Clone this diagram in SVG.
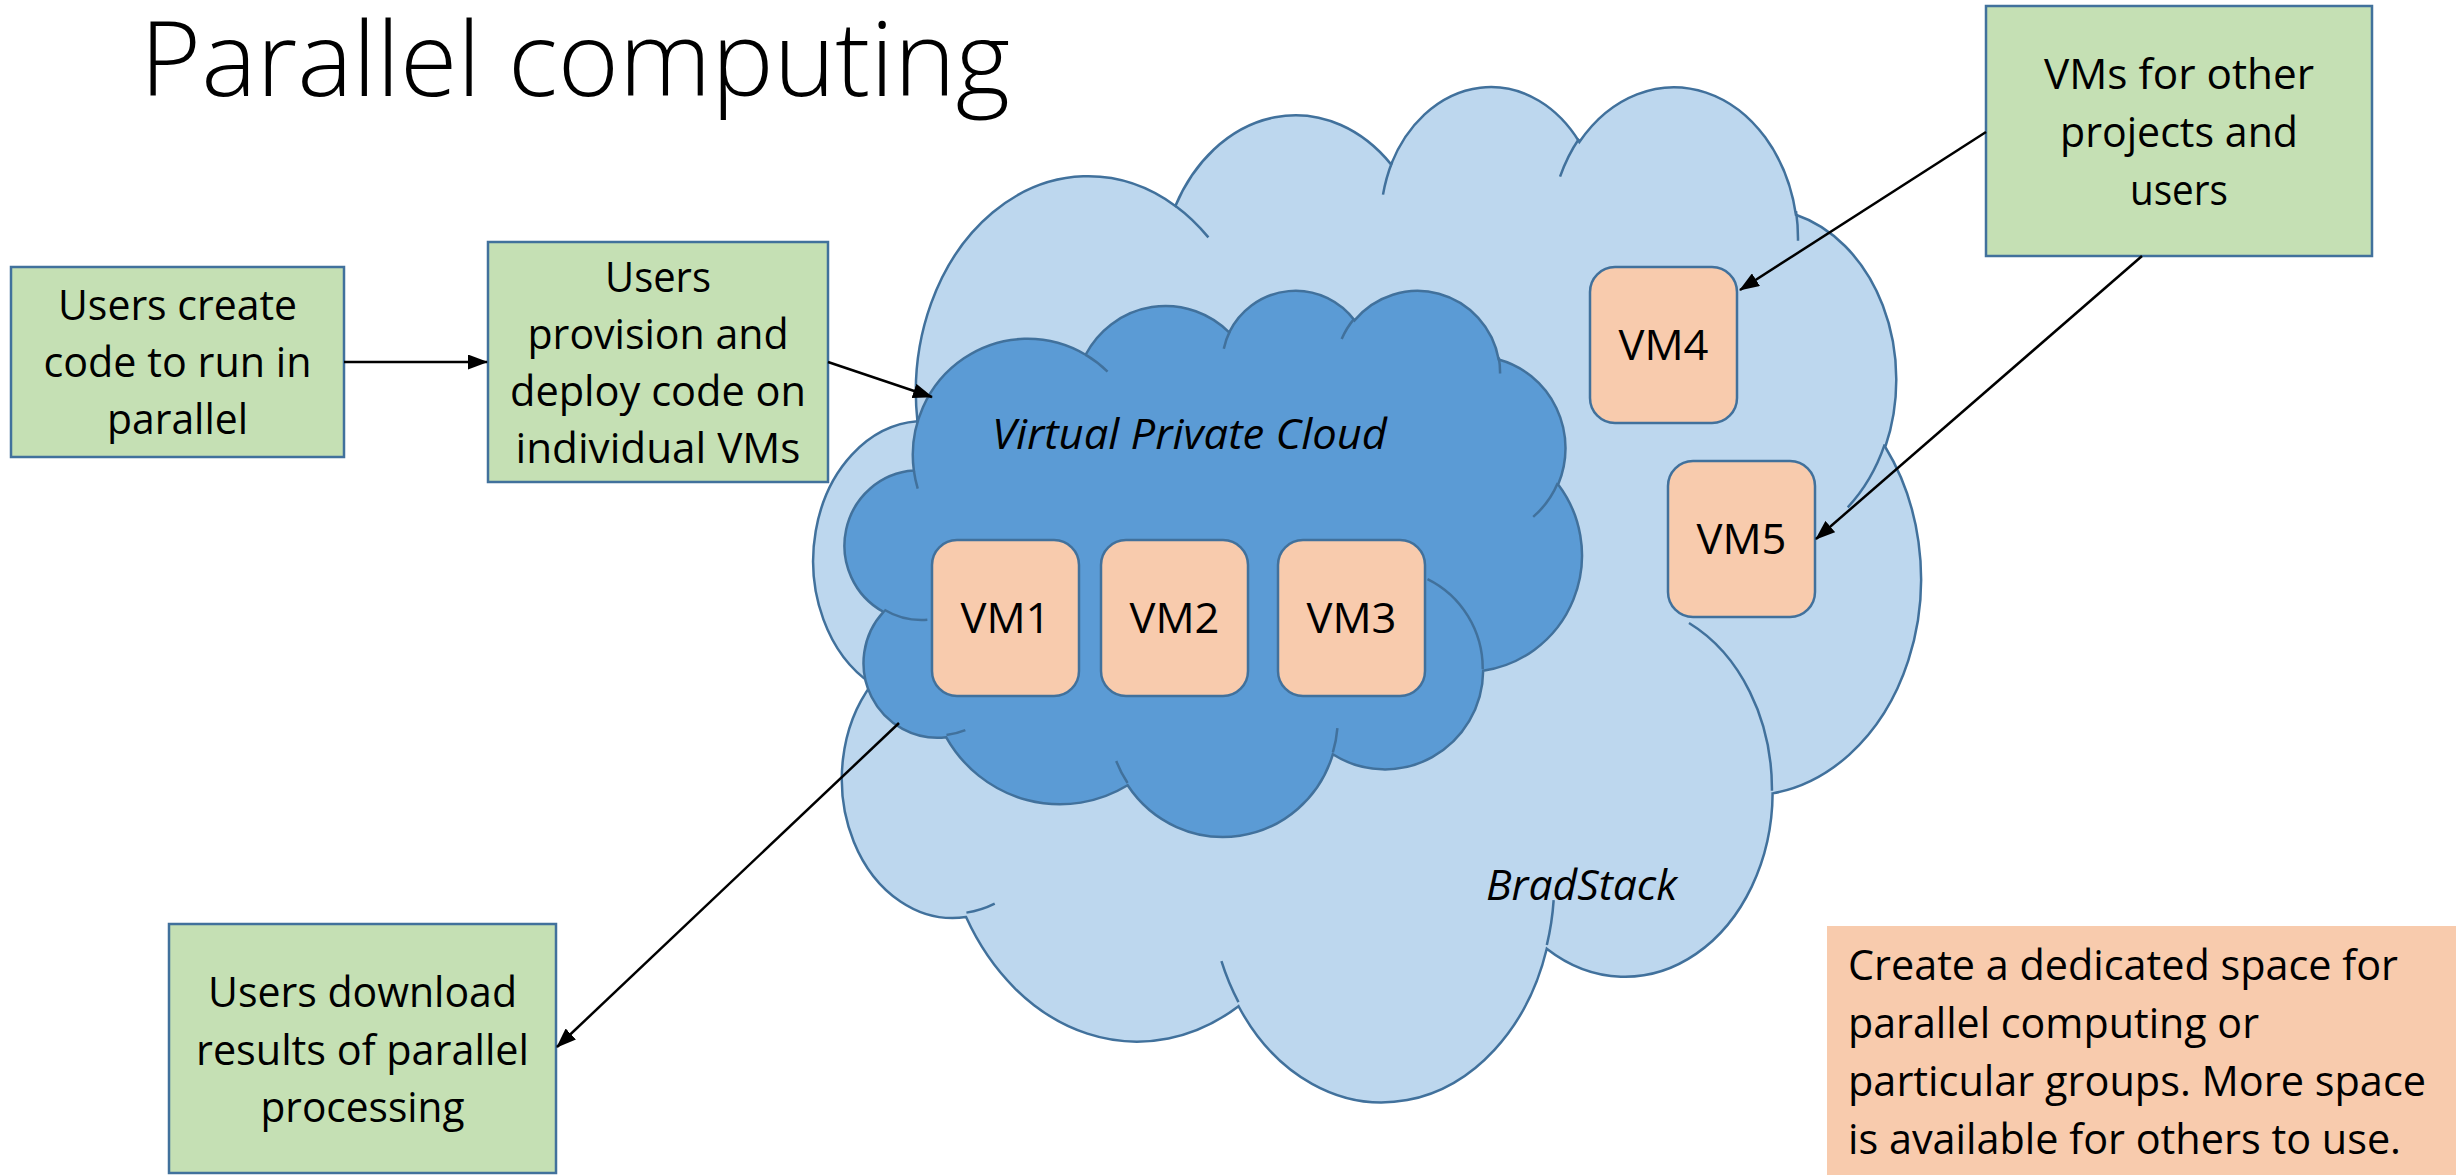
<svg xmlns="http://www.w3.org/2000/svg" xmlns:xlink="http://www.w3.org/1999/xlink" width="2456" height="1175" viewBox="0 0 2456 1175">
<style>
  .t { font-family: 'Open Sans', 'Noto Sans', 'Liberation Sans', sans-serif; font-size: 42px; fill: #000; }
  .c { text-anchor: middle; }
  .i { font-style: italic; }
  .title { font-family: 'Open Sans', 'Noto Sans', 'Liberation Sans', sans-serif; font-size: 103px; font-weight: 300; fill: #000; }
  .box { fill: #C5E0B4; stroke: #41719C; stroke-width: 2.5; }
  .vm { fill: #F8CBAD; stroke: #41719C; stroke-width: 2.5; }
  .note { fill: #F8CBAD; }
  .cl { stroke: #41719C; stroke-width: 2.5; vector-effect: non-scaling-stroke; }
  .arcs { fill: none; stroke: #41719C; stroke-width: 2.5; vector-effect: non-scaling-stroke; }
  .bs { fill: #BDD7EE; }
  .vpc { fill: #5B9BD5; }
  .conn line { stroke: #000; stroke-width: 2.5; fill: none; }
</style>
<defs>
  <marker id="ah" markerUnits="userSpaceOnUse" markerWidth="20" markerHeight="15" refX="19" refY="7.5" orient="auto">
    <path d="M0,0 L20,7.5 L0,15 z" fill="#000"/>
  </marker>
  <path id="cloudShape" class="cl" d="M3900 14370 A6753 9190 0 0 1 14006 5202 A5333 7267 0 0 1 22457 3433 A4365 5945 0 0 1 29834 2482 A4857 6595 0 0 1 38319 5578 A5333 7273 0 0 1 41820 15462 A6775 9220 0 0 1 37406 30205 A5785 7867 0 0 1 28557 36815 A6752 9215 0 0 1 16481 39266 A7720 10543 0 0 1 5805 35471 A4360 5918 0 0 1 2114 25549 A4345 5945 0 0 1 3900 14370 Z"/>
  <path id="cloudArcs" class="arcs" d="M4693 26177 A4345 5945 0 0 1 2159 25379 M6928 34899 A4360 5918 0 0 1 5819 35281 M16478 39090 A6752 9215 0 0 1 15811 37349 M28827 34751 A6752 9215 0 0 1 28560 36660 M34129 22954 A5785 7867 0 0 1 37380 30090 M41798 15354 A5333 7273 0 0 1 40350 18030 M38324 5426 A4857 6595 0 0 1 38400 6689 M29078 3952 A4857 6595 0 0 1 29820 2340 M22141 4720 A4365 5945 0 0 1 22500 3331 M14000 5192 A6753 9190 0 0 1 15300 6542 M4127 15789 A6753 9190 0 0 1 3900 14370"/>
</defs>
<rect width="2456" height="1175" fill="#FFFFFF"/>

<g id="title">
  <text class="title" x="140" y="96" textLength="870" lengthAdjust="spacingAndGlyphs">Parallel computing</text>
</g>

<g id="bradstack">
  <g transform="translate(817.9,83.7) scale(0.025523,0.023495)">
    <use xlink:href="#cloudShape" class="bs"/>
    <use xlink:href="#cloudArcs"/>
  </g>
  <text class="t i" x="1486" y="900" textLength="191" lengthAdjust="spacingAndGlyphs">BradStack</text>
</g>

<g id="vpc">
  <g transform="translate(847.6,289) scale(0.016991,0.012639)">
    <use xlink:href="#cloudShape" class="vpc"/>
    <use xlink:href="#cloudArcs"/>
  </g>
  <text class="t i" x="992" y="449" textLength="395" lengthAdjust="spacingAndGlyphs">Virtual Private Cloud</text>
</g>

<g id="vm1">
  <rect class="vm" x="932" y="540" width="147" height="156" rx="25" ry="25"/>
  <text class="t c" x="1005.5" y="633" textLength="90" lengthAdjust="spacingAndGlyphs">VM1</text>
</g>
<g id="vm2">
  <rect class="vm" x="1101" y="540" width="147" height="156" rx="25" ry="25"/>
  <text class="t c" x="1174.5" y="633" textLength="90" lengthAdjust="spacingAndGlyphs">VM2</text>
</g>
<g id="vm3">
  <rect class="vm" x="1278" y="540" width="147" height="156" rx="25" ry="25"/>
  <text class="t c" x="1351.5" y="633" textLength="90" lengthAdjust="spacingAndGlyphs">VM3</text>
</g>
<g id="vm4">
  <rect class="vm" x="1590" y="267" width="147" height="156" rx="25" ry="25"/>
  <text class="t c" x="1663.5" y="360" textLength="90" lengthAdjust="spacingAndGlyphs">VM4</text>
</g>
<g id="vm5">
  <rect class="vm" x="1668" y="461" width="147" height="156" rx="25" ry="25"/>
  <text class="t c" x="1741.5" y="554" textLength="90" lengthAdjust="spacingAndGlyphs">VM5</text>
</g>

<g id="create-code">
  <rect class="box" x="11" y="267" width="333" height="190"/>
  <text class="t c" x="177.5" y="320" textLength="239" lengthAdjust="spacingAndGlyphs">Users create</text>
  <text class="t c" x="177.5" y="377" textLength="268" lengthAdjust="spacingAndGlyphs">code to run in</text>
  <text class="t c" x="177.5" y="434" textLength="141" lengthAdjust="spacingAndGlyphs">parallel</text>
</g>

<g id="provision">
  <rect class="box" x="488" y="242" width="340" height="240"/>
  <text class="t c" x="658" y="292" textLength="106" lengthAdjust="spacingAndGlyphs">Users</text>
  <text class="t c" x="658" y="349" textLength="261" lengthAdjust="spacingAndGlyphs">provision and</text>
  <text class="t c" x="658" y="406" textLength="296" lengthAdjust="spacingAndGlyphs">deploy code on</text>
  <text class="t c" x="658" y="463" textLength="285" lengthAdjust="spacingAndGlyphs">individual VMs</text>
</g>

<g id="other-vms">
  <rect class="box" x="1986" y="6" width="386" height="250"/>
  <text class="t c" x="2179" y="89" textLength="270" lengthAdjust="spacingAndGlyphs">VMs for other</text>
  <text class="t c" x="2179" y="147" textLength="238" lengthAdjust="spacingAndGlyphs">projects and</text>
  <text class="t c" x="2179" y="205" textLength="98" lengthAdjust="spacingAndGlyphs">users</text>
</g>

<g id="download">
  <rect class="box" x="169" y="924" width="387" height="249"/>
  <text class="t c" x="362.5" y="1007" textLength="309" lengthAdjust="spacingAndGlyphs">Users download</text>
  <text class="t c" x="362.5" y="1065" textLength="333" lengthAdjust="spacingAndGlyphs">results of parallel</text>
  <text class="t c" x="362.5" y="1122" textLength="204" lengthAdjust="spacingAndGlyphs">processing</text>
</g>

<g id="note">
  <rect class="note" x="1827" y="926" width="629" height="249"/>
  <text class="t" x="1848" y="980" textLength="550" lengthAdjust="spacingAndGlyphs">Create a dedicated space for</text>
  <text class="t" x="1848" y="1038" textLength="411" lengthAdjust="spacingAndGlyphs">parallel computing or</text>
  <text class="t" x="1848" y="1096" textLength="578" lengthAdjust="spacingAndGlyphs">particular groups. More space</text>
  <text class="t" x="1848" y="1154" textLength="553" lengthAdjust="spacingAndGlyphs">is available for others to use.</text>
</g>

<g id="connectors" class="conn">
  <line x1="344" y1="362" x2="487" y2="362" marker-end="url(#ah)"/>
  <line x1="828" y1="362" x2="932" y2="397" marker-end="url(#ah)"/>
  <line x1="1986" y1="132" x2="1740" y2="290" marker-end="url(#ah)"/>
  <line x1="2142" y1="256" x2="1816" y2="539" marker-end="url(#ah)"/>
  <line x1="899" y1="723" x2="557" y2="1047" marker-end="url(#ah)"/>
</g>
</svg>
